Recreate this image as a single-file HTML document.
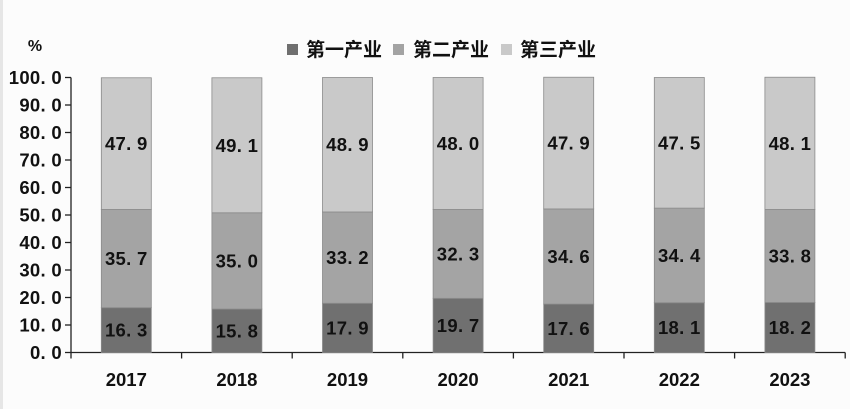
<!DOCTYPE html>
<html><head><meta charset="utf-8"><style>
html,body{margin:0;padding:0;background:#fff;}
svg text{font-family:"Liberation Sans","Noto Sans CJK SC",sans-serif;font-weight:bold;fill:#111;}
</style></head><body>
<svg id="chart" width="850" height="409" viewBox="0 0 850 409" xmlns="http://www.w3.org/2000/svg">
<rect x="0" y="0" width="850" height="409" fill="#fcfcfc"/>
<rect x="0" y="0" width="3" height="409" fill="#e6e6e6"/>
<text x="35" y="51" font-size="16" text-anchor="middle">%</text>
<g>
<rect x="287" y="44" width="11" height="11" fill="#6f6f6f"/>
<text x="306" y="56" font-size="19">第一产业</text>
<rect x="393" y="44" width="11" height="11" fill="#a3a3a3"/>
<text x="413" y="56" font-size="19">第二产业</text>
<rect x="501" y="44" width="11" height="11" fill="#c9c9c9"/>
<text x="520" y="56" font-size="19">第三产业</text>
</g>
<g id="plot"></g>
</svg>
<script>
const years = ["2017","2018","2019","2020","2021","2022","2023"];
const primary = [16.3,15.8,17.9,19.7,17.6,18.1,18.2];
const secondary = [35.7,35.0,33.2,32.3,34.6,34.4,33.8];
const tertiary = [47.9,49.1,48.9,48.0,47.9,47.5,48.1];
const yTicks = ["0.0","10.0","20.0","30.0","40.0","50.0","60.0","70.0","80.0","90.0","100.0"];

const NS="http://www.w3.org/2000/svg";
const g=document.getElementById('plot');
const X0=71, CW=110.6, Y0=352.5, Y100=77.5;
const yScale=v=>Y0-(v/100)*(Y0-Y100);
const xCenter=i=>X0+CW*(i+0.5);
function mk(tag,attrs){const e=document.createElementNS(NS,tag);for(const k in attrs)e.setAttribute(k,attrs[k]);g.appendChild(e);return e;}

let ax=mk('line',{x1:X0,y1:Y100,x2:X0,y2:Y0,stroke:'#222','stroke-width':1.3});


let bx=mk('line',{x1:X0,y1:Y0,x2:X0+CW*years.length,y2:Y0,stroke:'#222','stroke-width':1.3});



yTicks.forEach(t=>{
  const y=yScale(parseFloat(t));
  const l=mk('line',{x1:X0-6,y1:y,x2:X0,y2:y,stroke:'#222','stroke-width':1.3});
  
  
  const tx=mk('text',{x:X0-9,y:y+6.5,'font-size':18.5,'text-anchor':'end','letter-spacing':0.3});
  tx.textContent=t.replace('.','. ');
  
  
});
for(let i=0;i<=years.length;i++){
  const x=X0+CW*i;
  const l=mk('line',{x1:x,y1:Y0,x2:x,y2:Y0+6,stroke:'#222','stroke-width':1.3});
  
  
}
const series=[[primary,'#707070','primary'],[secondary,'#a4a4a4','secondary'],[tertiary,'#c9c9c9','tertiary']];
years.forEach((yr,i)=>{
  const cx=xCenter(i);
  let base=0;
  series.forEach(([arr,col,nm])=>{
    const v=arr[i];
    const yTop=yScale(base+v), yBot=yScale(base);
    const r=mk('rect',{x:cx-25,y:yTop,width:50,height:yBot-yTop,fill:col,stroke:'#8a8a8a','stroke-width':0.8});
    
    
    const t=mk('text',{x:cx,y:(yTop+yBot)/2+6.5,'font-size':18.5,'text-anchor':'middle','letter-spacing':0.3});
    t.textContent=v.toFixed(1).replace('.','. ');
    
    
    base+=v;
  });
  const xl=mk('text',{x:cx,y:386,'font-size':18.5,'text-anchor':'middle'});
  xl.textContent=yr;
  
  
});
</script>
</body></html>
